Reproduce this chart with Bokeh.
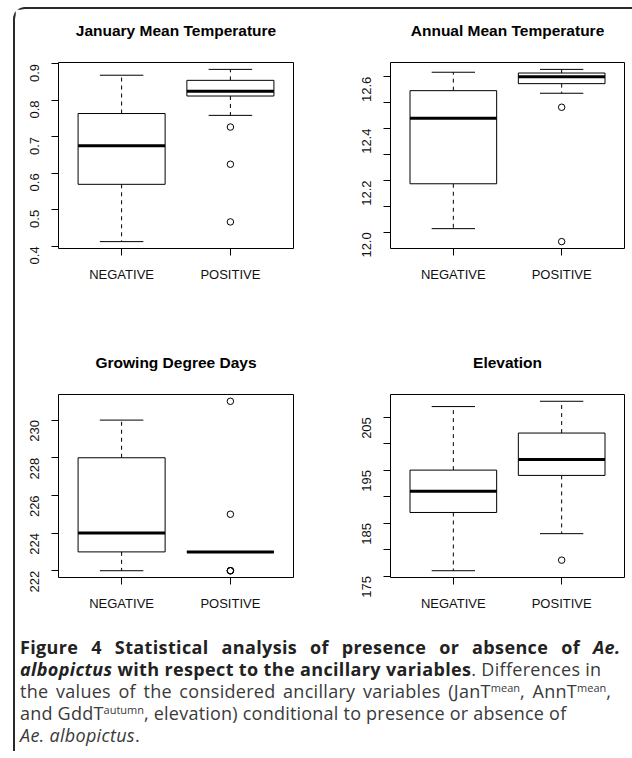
import math
from bokeh.plotting import figure
from bokeh.layouts import column, row
from bokeh.models import Range1d, FixedTicker, Div, Title
from bokeh.embed import file_html
from bokeh.resources import INLINE

categories = ["NEGATIVE", "POSITIVE"]
x_pos = [1, 2]

# January Mean Temperature
jan_lower = [0.413, 0.759]
jan_q1 = [0.570, 0.812]
jan_median = [0.676, 0.825]
jan_q3 = [0.764, 0.855]
jan_upper = [0.869, 0.885]
jan_out_x = [2, 2, 2]
jan_out_y = [0.727, 0.625, 0.467]
jan_ticks = [0.4, 0.5, 0.6, 0.7, 0.8, 0.9]
jan_labels = ["0.4", "0.5", "0.6", "0.7", "0.8", "0.9"]

# Annual Mean Temperature
ann_lower = [12.014, 12.536]
ann_q1 = [12.187, 12.573]
ann_median = [12.440, 12.600]
ann_q3 = [12.546, 12.614]
ann_upper = [12.617, 12.628]
ann_out_x = [2, 2]
ann_out_y = [12.482, 11.964]
ann_ticks = [12.0, 12.1, 12.2, 12.3, 12.4, 12.5, 12.6]
ann_labels = ["12.0", "", "12.2", "", "12.4", "", "12.6"]

# Growing Degree Days
gdd_lower = [222, 223]
gdd_q1 = [223, 223]
gdd_median = [224, 223]
gdd_q3 = [228, 223]
gdd_upper = [230, 223]
gdd_out_x = [2, 2, 2, 2, 2]
gdd_out_y = [231, 225, 222, 222, 222]
gdd_ticks = [222, 224, 226, 228, 230]
gdd_labels = ["222", "224", "226", "228", "230"]

# Elevation
ele_lower = [176, 183]
ele_q1 = [187, 194]
ele_median = [191, 197]
ele_q3 = [195, 202]
ele_upper = [207, 208]
ele_out_x = [2]
ele_out_y = [178]
ele_ticks = [175, 180, 185, 190, 195, 200, 205]
ele_labels = ["175", "", "185", "", "195", "", "205"]

FONT = "Liberation Sans"
BOX_W = 0.8
CAP_W = 0.4


def panel(title, lower, q1, med, q3, upper, ox, oy, ticks, labels,
          width, height, bl, br, bt, bb):
    allv = list(lower) + list(upper) + list(oy)
    lo, hi = min(allv), max(allv)
    pad = 0.04 * (hi - lo)
    p = figure(width=width, height=height, output_backend="svg",
               toolbar_location=None, x_range=Range1d(0.42, 2.58),
               y_range=Range1d(lo - pad, hi + pad), title=None,
               min_border_left=bl, min_border_right=br,
               min_border_top=bt, min_border_bottom=bb)
    # second (blank) line keeps the title one line clear of the box
    p.add_layout(Title(text=title + "\n\u00a0", align="center", text_font=FONT,
                       text_font_size="15.5px", text_font_style="bold",
                       text_color="black", standoff=13), "above")
    p.grid.visible = False
    p.outline_line_color = "black"
    p.outline_line_width = 1
    p.outline_line_alpha = 1
    p.background_fill_color = "white"
    p.border_fill_color = "white"

    left = [x - BOX_W / 2 for x in x_pos]
    right = [x + BOX_W / 2 for x in x_pos]
    cl = [x - CAP_W / 2 for x in x_pos]
    cr = [x + CAP_W / 2 for x in x_pos]
    # whiskers (dashed)
    p.segment(x0=x_pos, y0=q3, x1=x_pos, y1=upper, line_color="black",
              line_width=1, line_dash="4 4")
    p.segment(x0=x_pos, y0=q1, x1=x_pos, y1=lower, line_color="black",
              line_width=1, line_dash="4 4")
    # caps
    p.segment(x0=cl, y0=upper, x1=cr, y1=upper, line_color="black", line_width=1)
    p.segment(x0=cl, y0=lower, x1=cr, y1=lower, line_color="black", line_width=1)
    # boxes
    p.quad(left=left, right=right, bottom=q1, top=q3, fill_color="white",
           line_color="black", line_width=1)
    # medians
    p.segment(x0=left, y0=med, x1=right, y1=med, line_color="black", line_width=3)
    # outliers
    p.scatter(x=ox, y=oy, marker="circle", size=6.5, fill_color=None,
              line_color="black", line_width=1)

    for ax in (p.xaxis, p.yaxis):
        ax.axis_line_color = None
        ax.major_tick_line_color = "black"
        ax.major_tick_in = 0
        ax.major_tick_out = 7
        ax.minor_tick_line_color = None
        ax.major_label_text_font = FONT
        ax.major_label_text_font_size = "13px"
        ax.major_label_text_color = "#111111"
    p.xaxis.ticker = FixedTicker(ticks=x_pos)
    p.xaxis.major_label_overrides = {x: c for x, c in zip(x_pos, categories)}
    p.xaxis.major_label_standoff = 11
    p.yaxis.ticker = FixedTicker(ticks=ticks)
    p.yaxis.major_label_overrides = {t: l for t, l in zip(ticks, labels)}
    p.yaxis.major_label_orientation = math.pi / 2
    p.yaxis.major_label_standoff = 17
    return p


p1 = panel("January Mean Temperature", jan_lower, jan_q1, jan_median, jan_q3,
           jan_upper, jan_out_x, jan_out_y, jan_ticks, jan_labels,
           325, 291, 43, 47, 53, 52)
p2 = panel("Annual Mean Temperature", ann_lower, ann_q1, ann_median, ann_q3,
           ann_upper, ann_out_x, ann_out_y, ann_ticks, ann_labels,
           290, 291, 50, 6, 53, 52)
p3 = panel("Growing Degree Days", gdd_lower, gdd_q1, gdd_median, gdd_q3,
           gdd_upper, gdd_out_x, gdd_out_y, gdd_ticks, gdd_labels,
           325, 313, 43, 47, 94, 32)
p4 = panel("Elevation", ele_lower, ele_q1, ele_median, ele_q3,
           ele_upper, ele_out_x, ele_out_y, ele_ticks, ele_labels,
           290, 313, 50, 6, 94, 32)

SUP = '<sup style="font-size:11px;line-height:0;vertical-align:6px;letter-spacing:0">'
B = '<b style="letter-spacing:0.36px;color:#222222">'
caption_html = (
    '<span style="word-spacing:7.9px">' + B
    + "Figure 4 Statistical analysis of presence or absence of <i>Ae.</i></b></span><br>"
    + B + "<i>albopictus</i> with respect to the ancillary variables</b>. Differences in<br>"
    '<span style="word-spacing:2.5px">the values of the considered ancillary variables (JanT'
    + SUP + "mean</sup>, AnnT" + SUP + "mean</sup>,</span><br>"
    '<span style="letter-spacing:0.22px">and GddT' + SUP
    + "autumn</sup>, elevation) conditional to presence or absence of</span><br>"
    "<i>Ae. albopictus</i>."
)
caption = Div(text=caption_html, width=610, height=110,
              styles={"font-family": "'Open Sans'", "font-size": "18px",
                      "line-height": "22px", "color": "#3a3a3a",
                      "letter-spacing": "0.3px",
                      "white-space": "nowrap", "margin-top": "23px"})

layout = column(row(p1, p2), row(p3, p4), caption,
                styles={"border-left": "2px solid #2a2a2a",
                        "border-top": "2px solid #2a2a2a",
                        "border-top-left-radius": "12px",
                        "margin-left": "13px", "margin-top": "7px"})

open("out.html", "w").write(file_html(layout, INLINE))
